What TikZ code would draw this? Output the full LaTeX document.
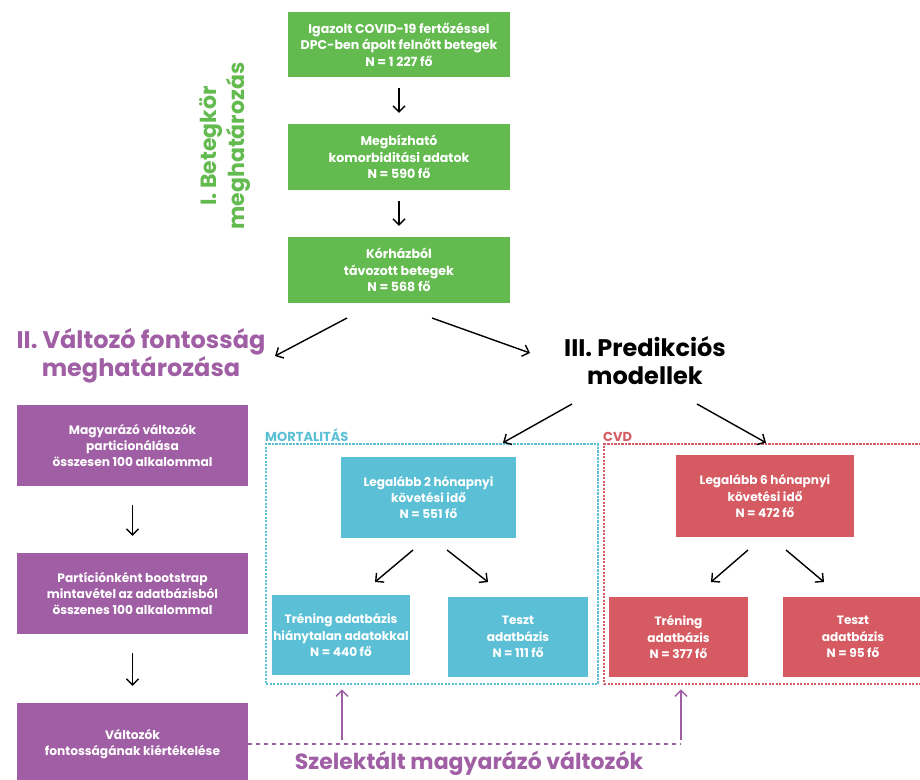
\documentclass[tikz,border=0pt]{standalone}
\usepackage{fontspec}
\setmainfont{Poppins}
\usetikzlibrary{arrows.meta}
\definecolor{cgreen}{HTML}{63BB50}
\definecolor{cpurple}{HTML}{A05EA4}
\definecolor{ccyan}{HTML}{5BC0D6}
\definecolor{cred}{HTML}{D65A62}
\tikzset{
  x=1pt, y=-1pt,
  box/.style={rectangle, text=white, font=\fontsize{12.6}{16.3}\selectfont\bfseries,
    align=center, inner sep=0pt},
  gbox/.style={box, fill=cgreen, minimum width=222pt, minimum height=66pt},
  pbox/.style={box, fill=cpurple, minimum width=231pt, minimum height=81pt,
    font=\fontsize{12.2}{15.8}\selectfont\bfseries},
  cbox/.style={box, fill=ccyan, font=\fontsize{12.1}{16.3}\selectfont\bfseries},
  rbox/.style={box, fill=cred, font=\fontsize{12.1}{16.3}\selectfont\bfseries},
  title/.style={font=\fontsize{24}{28}\selectfont\bfseries, align=center, inner sep=0pt},
  arr/.style={line width=1.4pt, -{Straight Barb[length=6pt,width=12pt]}},
  parr/.style={arr, draw=cpurple},
  group/.style={rectangle, line width=2.6pt, dash pattern=on 2.2pt off 1.3pt, inner sep=0pt},
  grouplabel/.style={font=\fontsize{13}{15}\selectfont\bfseries, anchor=south west, inner sep=0pt},
}
\begin{document}
\begin{tikzpicture}
\useasboundingbox (0,0) rectangle (920,779);
\fill[white] (0,0) rectangle (920,779);

% I. cohort definition
\node[gbox, minimum height=65pt] (g1) at (399,44.5) {Igazolt COVID-19 fertőzéssel\\DPC-ben ápolt felnőtt betegek\\N = 1 227 fő};
\node[gbox] (g2) at (399,157) {Megbízható\\komorbiditási adatok\\N = 590 fő};
\node[gbox] (g3) at (399,270) {Kórházból\\távozott betegek\\N = 568 fő};
\draw[arr, shorten <=11pt, shorten >=11pt] (g1) -- (g2);
\draw[arr, shorten <=11pt, shorten >=11pt] (g2) -- (g3);
\node[title, text=cgreen, rotate=90, font=\fontsize{22}{28}\selectfont\bfseries] (t1) at (225,146) {I. Betegkör\\meghatározás};

% section titles
\node[title, text=cpurple] (t2) at (141,356) {II. Változó fontosság\\meghatározása};
\node[title, text=black] (t3) at (645,361) {III. Predikciós\\modellek};
\coordinate (g3l) at (347,318);
\coordinate (t2a) at (275,356);
\coordinate (g3r) at (432,318);
\coordinate (t3a) at (530,353);
\draw[arr] (g3l) -- (t2a);
\draw[arr] (g3r) -- (t3a);

% II. variable importance column
\node[pbox] (p1) at (132.5,445.5) {Magyarázó változók\\particionálása\\összesen 100 alkalommal};
\node[pbox] (p2) at (132.5,593.5) {Partíciónként bootstrap\\mintavétel az adatbázisból\\összenes 100 alkalommal};
\node[pbox, minimum height=82pt] (p3) at (132.5,744) {Változók\\fontosságának kiértékelése};
\draw[arr, shorten <=19pt, shorten >=17pt] (p1) -- (p2);
\draw[arr, shorten <=19pt, shorten >=17pt] (p2) -- (p3);

% III. prediction models: groups
\node[group, draw=ccyan, minimum width=332pt, minimum height=240pt] (mort) at (432,564) {};
\node[group, draw=cred, minimum width=322pt, minimum height=240pt] (cvd) at (765,564) {};
\node[grouplabel, text=ccyan] (mortl) at (265,441.5) {MORTALITÁS};
\node[grouplabel, text=cred] (cvdl) at (603,441.5) {CVD};
\coordinate (t3l) at (572,404);
\coordinate (t3r) at (697,404);
\draw[arr] (t3l) -- (mort.north -| 503,0);
\draw[arr] (t3r) -- (cvd.north -| 766,0);

% mortality branch
\node[cbox, minimum width=175pt, minimum height=81pt] (m0) at (428.5,497.5) {Legalább 2 hónapnyi\\követési idő\\N = 551 fő};
\node[cbox, minimum width=138pt, minimum height=80pt] (m1) at (341,635) {Tréning adatbázis\\hiánytalan adatokkal\\N = 440 fő};
\node[cbox, minimum width=140pt, minimum height=80pt] (m2) at (518,637) {Teszt\\adatbázis\\N = 111 fő};
\coordinate (m0l) at (413,550);
\coordinate (m0r) at (447,550);
\draw[arr] (m0l) -- (375,582);
\draw[arr] (m0r) -- (488,582);

% CVD branch
\node[rbox, minimum width=178pt, minimum height=82pt] (c0) at (765,496) {Legalább 6 hónapnyi\\követési idő\\N = 472 fő};
\node[rbox, minimum width=139pt, minimum height=80pt] (c1) at (678.5,637) {Tréning\\adatbázis\\N = 377 fő};
\node[rbox, minimum width=140pt, minimum height=80pt] (c2) at (853,637) {Teszt\\adatbázis\\N = 95 fő};
\coordinate (c0l) at (748,550);
\coordinate (c0r) at (786,550);
\draw[arr] (c0l) -- (711,582);
\draw[arr] (c0r) -- (824,582);

% selected explanatory variables feed both model groups
\coordinate (s1) at (342,744);
\coordinate (s2) at (681,744);
\draw[cpurple, line width=1.6pt, dash pattern=on 4pt off 4pt] (p3.east |- s1) -- (s2);
\draw[parr, shorten <=4pt, shorten >=4pt] (s1) -- (s1 |- mort.south);
\draw[parr, shorten <=4pt, shorten >=4pt] (s2) -- (s2 |- cvd.south);
\node[title, text=cpurple, font=\fontsize{22}{27}\selectfont\bfseries] (sel) at (469,763) {Szelektált magyarázó változók};
\end{tikzpicture}
\end{document}
